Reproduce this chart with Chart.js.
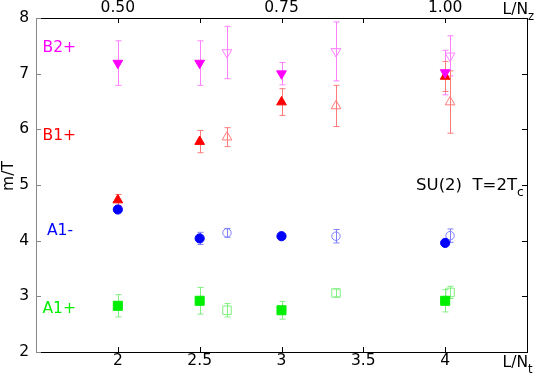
<!DOCTYPE html>
<html>
<head>
<meta charset="utf-8">
<script src="https://cdn.jsdelivr.net/npm/chart.js@4.4.1/dist/chart.umd.min.js"></script>
<style>
  html, body { margin:0; padding:0; background:#fff; }
  #c { display:block; }
</style>
</head>
<body>
<canvas id="c" width="545" height="382"></canvas>
<script>
'use strict';

/* ── data ── */
const xFilled = [2, 2.5, 3, 4];
const xOpen   = [2.667, 3.333, 4.03];

const b2Filled = [7.19, 7.19, 7.00, 7.02];  const b2FilledErr = [0.40, 0.40, 0.20, 0.40];
const b2Open   = [7.38, 7.40, 7.32];        const b2OpenErr   = [0.47, 0.53, 0.36];
const b1Filled = [4.73, 5.78, 6.49, 6.95];  const b1FilledErr = [0.10, 0.20, 0.24, 0.27];
const b1Open   = [5.86, 6.42, 6.49];        const b1OpenErr   = [0.17, 0.37, 0.56];
const a1mFilled = [4.56, 4.04, 4.08, 3.96]; const a1mFilledErr = [0.04, 0.11, 0.05, 0.04];
const a1mOpen   = [4.14, 4.08, 4.09];       const a1mOpenErr   = [0.08, 0.12, 0.12];
const a1pFilled = [2.83, 2.92, 2.75, 2.92]; const a1pFilledErr = [0.20, 0.24, 0.16, 0.20];
const a1pOpen   = [2.75, 3.06, 3.07];       const a1pOpenErr   = [0.12, 0.07, 0.11];

const seriesNames = ['B2+', 'B1+', 'A1-', 'A1+'];
const nameLevels  = [7.47, 5.88, 4.18, 2.78];

const xTicks = [2, 2.5, 3, 3.5, 4];
const xTickLabels = ['2', '2.5', '3', '3.5', '4'];
const yTicks = [2, 3, 4, 5, 6, 7, 8];
const topTicks = [0.5, 0.625, 0.75, 0.875, 1.0];
const topTickLabels = ['0.50', '', '0.75', '', '1.00'];

/* ── styles ── */
const FONT = 'DejaVu Sans';
const C = {
  mag:'#ff00ff', magL:'#ff80ff',
  red:'#ff0000', redL:'#ff7a7a',
  blue:'#0000ff', blueL:'#7f7fff',
  green:'#00ee00', greenL:'#80f080'
};
const nameColors = [C.mag, C.red, C.blue, C.green];

const pts = (xs, ys) => xs.map((x, i) => ({ x, y: ys[i] }));

function ds(xs, ys, err, opt) {
  return Object.assign({
    data: pts(xs, ys), err, showLine:false, borderWidth:1,
    pointHoverRadius: opt && opt.pointRadius
  }, opt);
}

const datasets = [
  // B2+ : down triangles
  ds(xFilled, b2Filled, b2FilledErr, { pointStyle:'triangle', rotation:180, pointRadius:5.6,
     backgroundColor:C.mag, borderColor:C.mag, errColor:C.magL }),
  ds(xOpen, b2Open, b2OpenErr, { pointStyle:'triangle', rotation:180, pointRadius:5.6,
     backgroundColor:'rgba(0,0,0,0)', borderColor:C.magL, errColor:C.magL }),
  // B1+ : up triangles
  ds(xFilled, b1Filled, b1FilledErr, { pointStyle:'triangle', rotation:0, pointRadius:5.6,
     backgroundColor:C.red, borderColor:C.red, errColor:C.redL }),
  ds(xOpen, b1Open, b1OpenErr, { pointStyle:'triangle', rotation:0, pointRadius:5.6,
     backgroundColor:'rgba(0,0,0,0)', borderColor:C.redL, errColor:C.redL }),
  // A1- : circles
  ds(xFilled, a1mFilled, a1mFilledErr, { pointStyle:'circle', pointRadius:4.6,
     backgroundColor:C.blue, borderColor:C.blue, errColor:C.blueL }),
  ds(xOpen, a1mOpen, a1mOpenErr, { pointStyle:'circle', pointRadius:4.2,
     backgroundColor:'rgba(0,0,0,0)', borderColor:C.blueL, errColor:C.blueL }),
  // A1+ : squares
  ds(xFilled, a1pFilled, a1pFilledErr, { pointStyle:'rect', pointRadius:6.4,
     backgroundColor:C.green, borderColor:C.green, errColor:C.greenL }),
  ds(xOpen, a1pOpen, a1pOpenErr, { pointStyle:'rect', pointRadius:6.0,
     backgroundColor:'rgba(0,0,0,0)', borderColor:C.greenL, errColor:C.greenL })
];

/* ── error bars, drawn under the markers ── */
const errBars = {
  id:'errBars',
  beforeDatasetsDraw(chart) {
    const { ctx, scales:{ x, y } } = chart;
    ctx.save();
    ctx.lineWidth = 1;
    chart.data.datasets.forEach(d => {
      ctx.strokeStyle = d.errColor;
      d.data.forEach((p, i) => {
        const e = d.err[i];
        const px = Math.round(x.getPixelForValue(p.x)) + 0.5;
        const y1 = y.getPixelForValue(p.y + e), y2 = y.getPixelForValue(p.y - e);
        ctx.beginPath();
        ctx.moveTo(px, y1); ctx.lineTo(px, y2);
        ctx.moveTo(px - 3, y1); ctx.lineTo(px + 3, y1);
        ctx.moveTo(px - 3, y2); ctx.lineTo(px + 3, y2);
        ctx.stroke();
      });
    });
    ctx.restore();
  }
};

/* ── inward tick marks + right frame ── */
const frame = {
  id:'frame',
  afterDraw(chart) {
    const { ctx, chartArea:a, scales:{ x, y } } = chart;
    const L = 5;
    ctx.save();
    ctx.lineWidth = 1;
    ctx.strokeStyle = '#000';
    ctx.beginPath();
    ctx.moveTo(Math.round(a.right) + 0.5, a.top);
    ctx.lineTo(Math.round(a.right) + 0.5, a.bottom);
    x.ticks.forEach(t => {
      const px = Math.round(x.getPixelForValue(t.value)) + 0.5;
      ctx.moveTo(px, a.bottom); ctx.lineTo(px, a.bottom - L);
      ctx.moveTo(px, a.top); ctx.lineTo(px, a.top + L);
    });
    y.ticks.forEach(t => {
      const py = Math.round(y.getPixelForValue(t.value)) + 0.5;
      ctx.moveTo(a.right, py); ctx.lineTo(a.right - L, py);
    });
    ctx.stroke();
    ctx.strokeStyle = '#888';
    ctx.beginPath();
    y.ticks.forEach(t => {
      const py = Math.round(y.getPixelForValue(t.value)) + 0.5;
      ctx.moveTo(a.left, py); ctx.lineTo(a.left + L, py);
    });
    ctx.stroke();
    ctx.restore();
  }
};

/* ── text labels ── */
function sub(ctx, main, s, x, y, size, align) {
  ctx.font = size + 'px "' + FONT + '"';
  const w = ctx.measureText(main).width;
  const x0 = align === 'right' ? x - w : x;
  ctx.textAlign = 'left';
  ctx.fillText(main, x0, y);
  ctx.font = (size * 0.75) + 'px "' + FONT + '"';
  ctx.fillText(s, x0 + w, y + size * 0.38);
}

const labels = {
  id:'labels',
  afterDraw(chart) {
    const { ctx, chartArea:a, scales:{ y } } = chart;
    ctx.save();
    ctx.textBaseline = 'middle';
    ctx.font = '15.5px "' + FONT + '"';
    seriesNames.forEach((n, i) => {
      ctx.fillStyle = nameColors[i];
      ctx.fillText(n, a.left + (n === 'A1-' ? 11 : 6.5), y.getPixelForValue(nameLevels[i]));
    });
    ctx.fillStyle = '#000';
    ctx.textBaseline = 'alphabetic';
    ctx.font = '16.5px "' + FONT + '"';
    const t1 = 'SU(2)  T=2T';
    const w1 = ctx.measureText(t1).width;
    sub(ctx, t1, 'c', a.right - 10 - w1, 190, 16.5, 'left');
    sub(ctx, 'L/N', 't', a.right + 1, 367, 15.5, 'right');
    sub(ctx, 'L/N', 'z', a.right + 1, 14, 15.5, 'right');
    // y title
    ctx.translate(13, 176);
    ctx.rotate(-Math.PI / 2);
    ctx.textAlign = 'center';
    ctx.font = '15.5px "' + FONT + '"';
    ctx.fillText('m/T', 0, 0);
    ctx.restore();
  }
};

const tickFont = { family:FONT, size:15.5 };

new Chart(document.getElementById('c'), {
  type:'scatter',
  data:{ datasets },
  options:{
    responsive:false, animation:false, devicePixelRatio:1,
    layout:{ padding:{ left:0, right:18, top:0, bottom:0 } },
    plugins:{ legend:{ display:false }, tooltip:{ enabled:false } },
    scales:{
      x:{
        type:'linear', position:'bottom', min:1.5, max:4.5,
        afterBuildTicks: s => { s.ticks = xTicks.map(v => ({ value:v })); },
        afterFit: s => { s.height = 30; },
        grid:{ display:false, drawTicks:false },
        border:{ color:'#000', width:1 },
        ticks:{ font:tickFont, color:'#000', padding:0, autoSkip:false, maxRotation:0,
                callback:(v, i) => xTickLabels[i] }
      },
      x2:{
        type:'linear', position:'top', min:0.375, max:1.125,
        afterBuildTicks: s => { s.ticks = topTicks.map(v => ({ value:v })); },
        afterFit: s => { s.height = 18; },
        grid:{ display:false, drawTicks:false },
        border:{ color:'#000', width:1 },
        ticks:{ font:tickFont, color:'#000', padding:1, autoSkip:false, maxRotation:0,
                callback:(v, i) => topTickLabels[i] }
      },
      y:{
        type:'linear', position:'left', min:2, max:8,
        afterBuildTicks: s => { s.ticks = yTicks.map(v => ({ value:v })); },
        afterFit: s => { s.width = 36; },
        grid:{ display:false, drawTicks:false },
        border:{ color:'#888', width:1 },
        ticks:{ font:tickFont, color:'#000', padding:7, autoSkip:false,
                callback:v => String(v) }
      }
    }
  },
  plugins:[errBars, frame, labels]
});
</script>
</body>
</html>
